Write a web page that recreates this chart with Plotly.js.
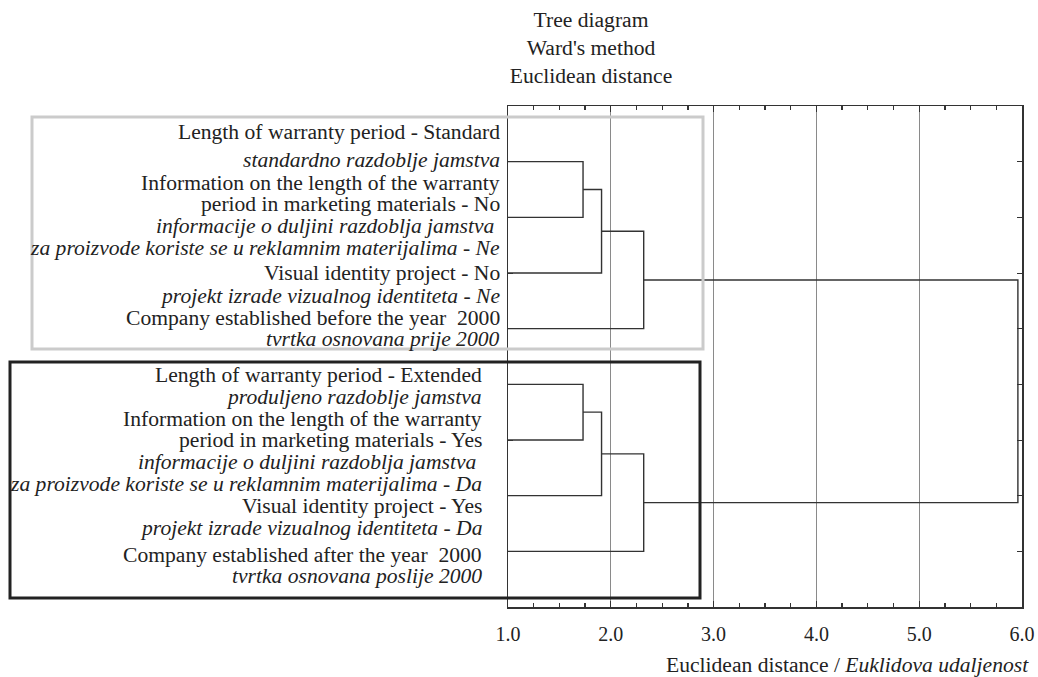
<!DOCTYPE html>
<html>
<head>
<meta charset="utf-8">
<script src="https://cdn.plot.ly/plotly-3.0.1.min.js"></script>
<style>html,body{margin:0;padding:0;background:#fff;}#chart{width:1038px;height:677px;}</style>
</head>
<body>
<div id="chart"></div>
<script>
// ---------------- DATA ----------------
const leafNames = [
  "Length of warranty period - Standard",
  "Information on the length of the warranty period in marketing materials - No",
  "Visual identity project - No",
  "Company established before the year 2000",
  "Length of warranty period - Extended",
  "Information on the length of the warranty period in marketing materials - Yes",
  "Visual identity project - Yes",
  "Company established after the year 2000"
];
// linkage: node index (>= 8 are clusters created in order)
const mergeA    = [0, 8, 9, 4, 11, 12, 10];
const mergeB    = [1, 2, 3, 5, 6, 7, 13];
const mergeDist = [1.73, 1.91, 2.32, 1.73, 1.91, 2.32, 5.96];

const xTickVals = [1, 2, 3, 4, 5, 6];
const xTickText = ["1.0", "2.0", "3.0", "4.0", "5.0", "6.0"];

const titleLines = ["Tree diagram", "Ward's method", "Euclidean distance"];
const xTitleEN = "Euclidean distance";
const xTitleHR = "Euklidova udaljenost";

// label text blocks (English lines upright, Croatian lines italic)
const topEN = [
  ["Length of warranty period - Standard"],
  ["Information on the length of the warranty", "period in marketing materials - No"],
  ["Visual identity project - No"],
  ["Company established before the year\u00a0 2000"]
];
const topHR = [
  ["standardno razdoblje jamstva"],
  ["informacije o duljini razdoblja jamstva\u00a0", "za proizvode koriste se u reklamnim materijalima - Ne"],
  ["projekt izrade vizualnog identiteta - Ne"],
  ["tvrtka osnovana prije 2000"]
];
const botEN = [
  ["Length of warranty period - Extended"],
  ["Information on the length of the warranty", "period in marketing materials - Yes"],
  ["Visual identity project - Yes"],
  ["Company established after the year\u00a0 2000"]
];
const botHR = [
  ["produljeno razdoblje jamstva"],
  ["informacije o duljini razdoblja jamstva\u00a0", "za proizvode koriste se u reklamnim materijalima - Da"],
  ["projekt izrade vizualnog identiteta - Da"],
  ["tvrtka osnovana poslije 2000"]
];

// ---------------- LAYOUT CONSTANTS ----------------
const FONT = "Liberation Serif";
const TXT = "#222";
const FS = 21.6;
const L = 508, R = 1022, T = 106, B = 607;
const px = v => (v - L) / (R - L);
const py = v => (B - v) / (B - T);
const topLineY = [132, 160, 182.5, 204, 225.5, 247.5, 273, 295.5, 317.5, 338.5];
const botLineY = [375, 397, 419, 440, 462, 484, 506, 528, 555, 576];

// ---------------- DENDROGRAM SEGMENTS ----------------
const nLeaf = leafNames.length;
const nodeY = [], nodeH = [];
for (let i = 0; i < nLeaf; i++) { nodeY.push(i + 1); nodeH.push(0); }
const lx = [], ly = [];
for (let k = 0; k < mergeA.length; k++) {
  const a = mergeA[k], b = mergeB[k], h = mergeDist[k];
  lx.push(nodeH[a], h, h, nodeH[b], null);
  ly.push(nodeY[a], nodeY[a], nodeY[b], nodeY[b], null);
  nodeY.push((nodeY[a] + nodeY[b]) / 2);
  nodeH.push(h);
}

const traces = [{
  type: "scatter", mode: "lines", x: lx, y: ly,
  line: {color: "#333", width: 1.4}, hoverinfo: "skip", showlegend: false
}];

// ---------------- ANNOTATIONS ----------------
const ann = [];
function addBlock(en, hr, ys, xRight) {
  let idx = 0;
  for (let i = 0; i < en.length; i++) {
    const lines = en[i].map(s => ({s, it: false})).concat(hr[i].map(s => ({s, it: true})));
    lines.forEach(o => {
      ann.push({
        xref: "paper", yref: "paper", x: px(xRight), y: py(ys[idx]),
        xanchor: "right", yanchor: "middle", showarrow: false,
        text: o.it ? "<i>" + o.s + "</i>" : o.s,
        font: {family: FONT, size: FS, color: TXT}
      });
      idx++;
    });
  }
}
addBlock(topEN, topHR, topLineY, 502);
addBlock(botEN, botHR, botLineY, 484);

ann.push({
  xref: "paper", yref: "paper", x: px(1031), y: py(665),
  xanchor: "right", yanchor: "middle", showarrow: false,
  text: xTitleEN + " / <i>" + xTitleHR + "</i>",
  font: {family: FONT, size: FS, color: TXT}
});

const shapes = [
  {type: "rect", xref: "paper", yref: "paper", x0: px(32), x1: px(703), y0: py(117), y1: py(349),
   line: {color: "#cbcbcb", width: 3}, layer: "above"},
  {type: "rect", xref: "paper", yref: "paper", x0: px(10), x1: px(700), y0: py(362), y1: py(598),
   line: {color: "#222", width: 3}, layer: "above"}
];

const layout = {
  width: 1038, height: 677,
  margin: {l: L, r: 1038 - R, t: T, b: 677 - B, pad: 0},
  paper_bgcolor: "#fff", plot_bgcolor: "#fff",
  font: {family: FONT, size: FS, color: TXT},
  title: {
    text: titleLines.join("<br>"),
    x: 591 / 1038, xref: "container", xanchor: "center",
    y: 1 - 27 / 677, yref: "container", yanchor: "top",
    font: {family: FONT, size: FS, color: TXT}
  },
  xaxis: {
    range: [1, 6], tickvals: xTickVals, ticktext: xTickText,
    ticks: "inside", ticklen: 6, tickcolor: "#333", tickwidth: 1.2,
    showline: true, linecolor: "#333", linewidth: 1.5, mirror: "ticks",
    showgrid: true, gridcolor: "#8a8a8a", gridwidth: 1, zeroline: false,
    minor: {dtick: 0.25, tick0: 1, ticks: "inside", ticklen: 4, tickcolor: "#333", showgrid: false},
    tickfont: {family: FONT, size: 20, color: TXT}, ticklabelstandoff: 8
  },
  yaxis: {
    range: [9, 0], tickvals: [1, 2, 3, 4, 5, 6, 7, 8],
    ticks: "inside", ticklen: 5, tickcolor: "#333",
    showticklabels: false, showgrid: false, zeroline: false,
    showline: true, linecolor: "#333", linewidth: 1.5, mirror: "ticks"
  },
  annotations: ann,
  shapes: shapes
};

Plotly.newPlot("chart", traces, layout, {displayModeBar: false, staticPlot: true});
</script>
</body>
</html>
